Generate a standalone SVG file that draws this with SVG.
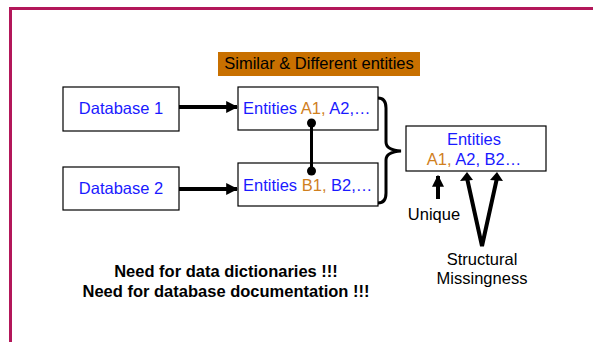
<svg xmlns="http://www.w3.org/2000/svg" width="593" height="342" viewBox="0 0 593 342">
<defs>
<style>
text{font-family:"Liberation Sans",Arial,sans-serif;font-size:16.5px}
.box{fill:#fff;stroke:#000;stroke-width:1.2}
.b{fill:#1a1aff}
.o{fill:#d0801e}
.k{fill:#000}
.bold{font-weight:bold}
.ln{stroke:#000;stroke-width:4;fill:none}
</style>
<marker id="ah" viewBox="0 0 10 10" refX="9" refY="5" markerWidth="3" markerHeight="3" orient="auto" markerUnits="strokeWidth">
<path d="M0,0 L10,5 L0,10 z" fill="#000"/>
</marker>
</defs>
<rect width="593" height="342" fill="#fff"/>
<path d="M10.5,342 V8.5 H593" fill="none" stroke="#b3175a" stroke-width="3"/>

<g id="label-similar">
<rect x="218" y="52" width="202" height="24" fill="#c87000"/>
<text x="319" y="69" text-anchor="middle" class="k">Similar &amp; Different entities</text>
</g>

<g id="db1">
<rect class="box" x="63" y="87" width="116" height="44"/>
<text x="121" y="114" text-anchor="middle" class="b">Database 1</text>
</g>
<g id="db2">
<rect class="box" x="63" y="167" width="116" height="43"/>
<text x="121" y="194" text-anchor="middle" class="b">Database 2</text>
</g>
<g id="entA">
<rect class="box" x="238" y="87" width="140" height="43"/>
<text x="243" y="114"><tspan class="b">Entities </tspan><tspan class="o">A1, </tspan><tspan class="b">A2,…</tspan></text>
</g>
<g id="entB">
<rect class="box" x="238" y="163" width="140" height="43"/>
<text x="243" y="191"><tspan class="b">Entities </tspan><tspan class="o">B1, </tspan><tspan class="b">B2,…</tspan></text>
</g>
<g id="result">
<rect class="box" x="406" y="126" width="140" height="45"/>
<text x="474" y="145" text-anchor="middle" class="b">Entities</text>
<text x="474" y="165" text-anchor="middle"><tspan class="o">A1, </tspan><tspan class="b">A2, B2…</tspan></text>
</g>
<g id="unique-label">
<text x="434" y="220" text-anchor="middle" class="k">Unique</text>
</g>
<g id="structural-label">
<text x="482" y="265" text-anchor="middle" class="k">Structural</text>
<text x="482" y="284" text-anchor="middle" class="k">Missingness</text>
</g>
<g id="note">
<text x="226" y="277" text-anchor="middle" class="k bold">Need for data dictionaries !!!</text>
<text x="226" y="297" text-anchor="middle" class="k bold">Need for database documentation !!!</text>
</g>

<g id="connectors">
<line class="ln" x1="179" y1="107" x2="237" y2="107" marker-end="url(#ah)"/>
<line class="ln" x1="179" y1="189" x2="237" y2="189" marker-end="url(#ah)"/>
<line x1="311.5" y1="123" x2="311.5" y2="171" stroke="#000" stroke-width="3"/>
<circle cx="311.5" cy="123" r="4.5" fill="#000"/>
<circle cx="311.5" cy="171" r="4.5" fill="#000"/>
<path d="M378,98 Q386,98 386,108 V142 Q386,150 401,151 Q386,152 386,160 V193 Q386,203 378,203" fill="none" stroke="#000" stroke-width="3"/>
<line class="ln" x1="438" y1="199" x2="438" y2="176" marker-end="url(#ah)"/>
<path class="ln" d="M467,178 L482,246 L497,178"/>
<path d="M460,181 L467,172 L473,180 z M490,180 L497,172 L503,181 z" fill="#000"/>
</g>
</svg>
